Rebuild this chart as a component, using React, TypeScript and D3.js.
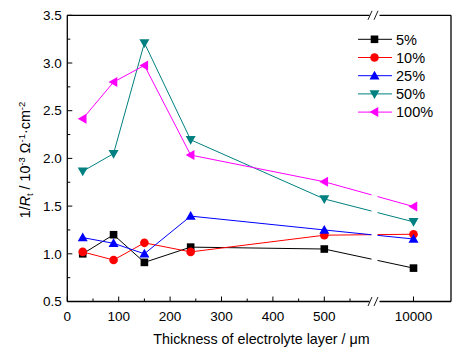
import { useEffect, useRef } from 'react';
import * as d3 from 'd3';

const thickness = [30, 90, 150, 240, 500, 10000];
const seriesNames = ['5%', '10%', '25%', '50%', '100%'];
const s5 = [1.0, 1.2, 0.91, 1.07, 1.05, 0.85];
const s10 = [1.02, 0.935, 1.115, 1.02, 1.195, 1.205];
const s25 = [1.17, 1.11, 1.0, 1.395, 1.25, 1.155];
const s50 = [1.865, 2.05, 3.21, 2.195, 1.575, 1.335];
const s100 = [2.415, 2.8, 2.975, 2.035, 1.755, 1.495];
const yTicks = [0.5, 1.0, 1.5, 2.0, 2.5, 3.0, 3.5];
const xTicksLow = [0, 100, 200, 300, 400, 500];
const xTicksHigh = [10000];

const colors = ['#000000', '#ff0000', '#0000ff', '#008080', '#ff00ff'];
const shapes = ['square', 'circle', 'up', 'down', 'left'];

export default function App() {
  const svgRef = useRef<SVGSVGElement>(null);

  useEffect(() => {
    if (!svgRef.current) return;
    const W = 463, H = 352;
    const svg = d3.select(svgRef.current).attr('width', W).attr('height', H);
    svg.selectAll('*').remove();

    const left = 67.3, right = 451, top = 15.3, bottom = 301.5;
    const gapL = 371.5, gapR = 377.5;
    const font = 'Liberation Sans, Arial, sans-serif';

    const xLow = d3.scaleLinear().domain([0, 600]).range([left, left + 600 * 0.514]);
    const xHigh = d3.scaleLinear().domain([9500, 10500]).range([376, right]);
    const x = (v: number) => (v < 1000 ? xLow(v) : xHigh(v));
    const y = d3.scaleLinear().domain([0.5, 3.5]).range([bottom, top]);

    const all = [s5, s10, s25, s50, s100];

    // lines
    all.forEach((vals, i) => {
      const line = d3.line<number>().x((_, j) => x(thickness[j])).y(d => y(d));
      svg.append('path').attr('d', line(vals)!).attr('fill', 'none')
        .attr('stroke', colors[i]).attr('stroke-width', 1);
    });

    // gap at break
    svg.append('rect').attr('x', gapL).attr('y', top + 1).attr('width', gapR - gapL)
      .attr('height', bottom - top - 2).attr('fill', '#fff');

    const marker = (g: d3.Selection<SVGGElement, unknown, null, undefined>, shape: string, cx: number, cy: number, color: string) => {
      if (shape === 'square') {
        g.append('rect').attr('x', cx - 3.8).attr('y', cy - 3.8).attr('width', 7.6).attr('height', 7.6).attr('fill', color);
      } else if (shape === 'circle') {
        g.append('circle').attr('cx', cx).attr('cy', cy).attr('r', 4.3).attr('fill', color);
      } else {
        const r = 5;
        let pts: [number, number][] = [];
        if (shape === 'up') pts = [[cx, cy - r], [cx + r, cy + r * 0.75], [cx - r, cy + r * 0.75]];
        if (shape === 'down') pts = [[cx, cy + r], [cx + r, cy - r * 0.75], [cx - r, cy - r * 0.75]];
        if (shape === 'left') pts = [[cx - r, cy], [cx + r * 0.75, cy - r], [cx + r * 0.75, cy + r]];
        g.append('polygon').attr('points', pts.map(p => p.join(',')).join(' ')).attr('fill', color);
      }
    };

    const mg = svg.append('g');
    all.forEach((vals, i) => {
      vals.forEach((v, j) => marker(mg, shapes[i], x(thickness[j]), y(v), colors[i]));
    });

    // frame with breaks
    const ax = svg.append('g').attr('stroke', '#000').attr('stroke-width', 1.3).attr('fill', 'none');
    ax.append('path').attr('d', `M${left},${top}V${bottom}`);
    ax.append('path').attr('d', `M${right},${top}V${bottom}`);
    [top, bottom].forEach(yy => {
      ax.append('path').attr('d', `M${left},${yy}H${gapL - 2}`);
      ax.append('path').attr('d', `M${gapR + 2},${yy}H${right}`);
      const bg = svg.append('g').attr('stroke', '#000').attr('stroke-width', 0.9);
      bg.append('line').attr('x1', gapL - 3.5).attr('y1', yy + 4.5).attr('x2', gapL + 0.5).attr('y2', yy - 4.5);
      bg.append('line').attr('x1', gapR - 3.5).attr('y1', yy + 4.5).attr('x2', gapR + 0.5).attr('y2', yy - 4.5);
    });

    // ticks
    const tk = svg.append('g').attr('stroke', '#000').attr('stroke-width', 1);
    d3.range(0.5, 3.51, 0.25).forEach(v => {
      const major = Math.abs(v * 2 - Math.round(v * 2)) < 1e-6;
      tk.append('line').attr('x1', left).attr('x2', left + (major ? 5 : 3)).attr('y1', y(v)).attr('y2', y(v));
    });
    d3.range(0, 551, 50).forEach(v => {
      const major = v % 100 === 0;
      tk.append('line').attr('x1', xLow(v)).attr('x2', xLow(v)).attr('y1', bottom).attr('y2', bottom - (major ? 5 : 3));
    });
    xTicksHigh.forEach(v => {
      tk.append('line').attr('x1', xHigh(v)).attr('x2', xHigh(v)).attr('y1', bottom).attr('y2', bottom - 5);
    });

    // tick labels
    const tl = svg.append('g').attr('font-family', font).attr('font-size', 13.5).attr('fill', '#000');
    yTicks.forEach(v => {
      tl.append('text').attr('x', left - 5.5).attr('y', y(v)).attr('dy', '0.35em')
        .attr('text-anchor', 'end').text(d3.format('.1f')(v));
    });
    xTicksLow.forEach(v => {
      tl.append('text').attr('x', xLow(v)).attr('y', 320.5).attr('text-anchor', 'middle').text(v);
    });
    xTicksHigh.forEach(v => {
      tl.append('text').attr('x', xHigh(v)).attr('y', 320.5).attr('text-anchor', 'middle').text(v);
    });

    // axis titles
    svg.append('text').attr('x', 261.5).attr('y', 343.5).attr('text-anchor', 'middle')
      .attr('font-family', font).attr('font-size', 14.3).text('Thickness of electrolyte layer / μm');

    const yt = svg.append('text').attr('transform', 'translate(30,160) rotate(-90)')
      .attr('text-anchor', 'middle').attr('font-family', font).attr('font-size', 14.3);
    yt.append('tspan').text('1/');
    yt.append('tspan').attr('font-style', 'italic').text('R');
    yt.append('tspan').attr('font-size', 9.5).attr('dy', 3).text('t');
    yt.append('tspan').attr('dy', -3).text(' / 10');
    yt.append('tspan').attr('font-size', 9.5).attr('dy', -5.5).text('-3');
    yt.append('tspan').attr('dy', 5.5).text(' Ω');
    yt.append('tspan').attr('font-size', 9.5).attr('dy', -5.5).text('-1');
    yt.append('tspan').attr('dy', 5.5).text('·cm');
    yt.append('tspan').attr('font-size', 9.5).attr('dy', -5.5).text('-2');

    // legend
    const lg = svg.append('g');
    seriesNames.forEach((name, i) => {
      const ly = 39.3 + i * 18.2;
      lg.append('line').attr('x1', 358).attr('x2', 392).attr('y1', ly).attr('y2', ly)
        .attr('stroke', colors[i]).attr('stroke-width', 1);
      marker(lg, shapes[i], 374.5, ly, colors[i]);
      lg.append('text').attr('x', 396).attr('y', ly).attr('dy', '0.36em')
        .attr('font-family', font).attr('font-size', 14.5).text(name);
    });
  }, []);

  return (
    <div style={{ position: 'absolute', left: 0, top: 0 }}>
      <svg ref={svgRef} style={{ display: 'block' }} />
    </div>
  );
}
